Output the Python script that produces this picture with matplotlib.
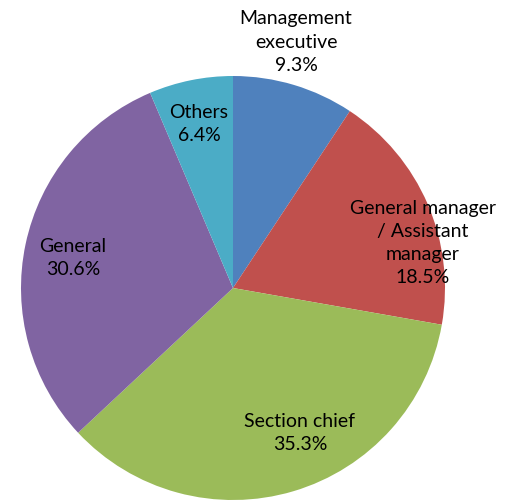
import matplotlib
matplotlib.use("Agg")
import matplotlib.pyplot as plt

categories = ["Management\nexecutive", "General manager\n/ Assistant\nmanager", "Section chief", "General", "Others"]
values = [9.3, 18.5, 35.3, 30.6, 6.4]
colors = ["#4F81BD", "#C0504D", "#9BBB59", "#8064A2", "#4BACC6"]

# label centre positions in pixels (x, y from top)
label_px = [(296, 42), (423, 243), (300, 433), (73, 258), (199, 124)]

W, H = 508, 501
cx, cy, R = 233, 288, 212

fig = plt.figure(figsize=(W / 100, H / 100), dpi=100)
ax = fig.add_axes([0, 0, 1, 1])
ax.pie(values, colors=colors, startangle=90, counterclock=False, radius=1,
       wedgeprops=dict(linewidth=0))
ax.set_xlim(-cx / R, (W - cx) / R)
ax.set_ylim(-(H - cy) / R, cy / R)
ax.set_aspect("auto")
ax.axis("off")

for cat, v, (px, py) in zip(categories, values, label_px):
    ax.text((px - cx) / R, (cy - py) / R, f"{cat}\n{v:.1f}%", ha="center", va="center",
            fontsize=14, family=["Lato", "DejaVu Sans"], linespacing=1.45, color="black")

fig.savefig("out.png", dpi=100)
